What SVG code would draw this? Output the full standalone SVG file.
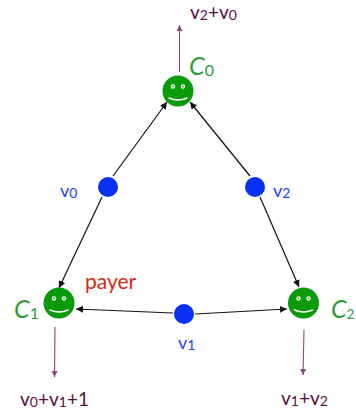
<svg xmlns="http://www.w3.org/2000/svg" width="356" height="411" viewBox="0 0 356 411">
<style>
text{font-family:"Lato","Noto Sans",sans-serif}
.e{stroke:#111;stroke-width:1.2;fill:none;marker-end:url(#a)}
.o{stroke:#8a4a7c;stroke-width:1.1;fill:none;marker-end:url(#b)}
.face{fill:#0a9a0a}
.eye{fill:#fff;stroke:none}
.pupil{fill:#0a9a0a}
.smile{fill:none;stroke:#fff;stroke-width:1.5;stroke-linecap:round}
.dot{fill:#0a30f5}
.blue{fill:#1a40f0;font-size:18px}
.green{fill:#2a9a35;font-size:25px;font-style:italic}
.sum{fill:#5a0f40;font-size:19px}
.sub{font-size:14px}
.gs{font-style:normal;font-size:16px}
.gs2{font-style:normal;font-size:13px}
</style>
<defs>
<marker id="a" markerUnits="userSpaceOnUse" markerWidth="8" markerHeight="7" refX="7" refY="3.5" orient="auto"><path d="M0 0L7 3.5L0 7Z" fill="#111"/></marker>
<marker id="b" markerUnits="userSpaceOnUse" markerWidth="7" markerHeight="6" refX="6" refY="3" orient="auto"><path d="M0 0L6 3L0 6Z" fill="#8a4a7c"/></marker>
<g id="smiley">
<circle class="face" r="15.500"/>
<circle class="eye" cx="-5" cy="-4.500" r="2.200"/><circle class="pupil" cx="-5" cy="-4.500" r="0.900"/>
<circle class="eye" cx="5" cy="-4.500" r="2.200"/><circle class="pupil" cx="5" cy="-4.500" r="0.900"/>
<path class="smile" d="M-9 7Q0 11 9 7"/>
</g>
</defs>
<g id="connectors">
<path class="e" d="M113 176L167 102"/>
<path class="e" d="M102 197L59 288"/>
<path class="e" d="M250 176L190 102"/>
<path class="e" d="M260 197L299 287"/>
<path class="e" d="M173 313L76 309"/>
<path class="e" d="M195 314L287 309"/>
<path class="o" d="M179.500 72L179.500 25"/>
<path class="o" d="M55 327L54.500 377"/>
<path class="o" d="M304 330L303 375"/>
</g>
<g id="C0"><use href="#smiley" x="178" y="91"/><text class="green" x="189" y="75">C<tspan class="gs" dy="1">0</tspan></text></g>
<g id="C1"><use href="#smiley" x="59" y="303"/><text class="green" x="14" y="318">C<tspan class="gs" dy="1">1</tspan></text></g>
<g id="C2"><use href="#smiley" x="303.500" y="303"/><text class="green" x="331" y="318">C<tspan class="gs2" dy="1">2</tspan></text></g>
<g id="v0"><circle class="dot" cx="108" cy="187" r="10"/><text class="blue" x="60" y="197">v<tspan class="sub" dy="1">0</tspan></text></g>
<g id="v1"><circle class="dot" cx="184" cy="314" r="10"/><text class="blue" x="178" y="349">v<tspan class="sub" dy="1">1</tspan></text></g>
<g id="v2"><circle class="dot" cx="255" cy="187" r="10"/><text class="blue" x="273" y="197">v<tspan class="sub" dy="1">2</tspan></text></g>
<text x="85" y="289" fill="#d8280f" font-size="21">payer</text>
<text class="sum" x="190" y="19">v<tspan class="sub" dy="1">2</tspan><tspan dy="-1">+v</tspan><tspan class="sub" dy="1">0</tspan></text>
<text class="sum" x="20" y="406">v<tspan class="sub" dy="1">0</tspan><tspan dy="-1">+v</tspan><tspan class="sub" dy="1">1</tspan><tspan dy="-1">+1</tspan></text>
<text class="sum" x="281" y="405">v<tspan class="sub" dy="1">1</tspan><tspan dy="-1">+v</tspan><tspan class="sub" dy="1">2</tspan></text>
</svg>
